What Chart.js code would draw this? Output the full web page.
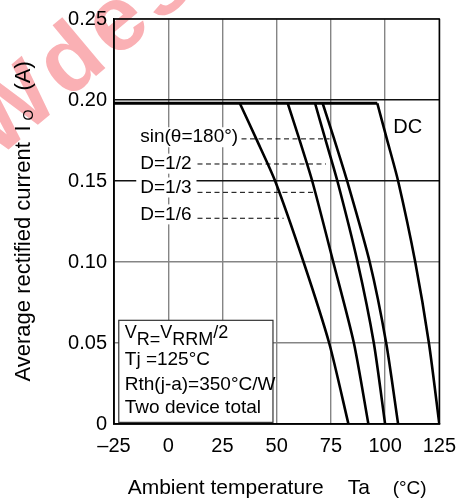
<!DOCTYPE html>
<html lang="en">
<head>
<meta charset="UTF-8">
<title>Io - Ta derating</title>
<script src="https://cdn.jsdelivr.net/npm/chart.js"></script>
<style>
  body { margin: 0; background: #fff; }
  #wrap { width: 466px; height: 502px; }
</style>
</head>
<body>
<div id="wrap"><canvas id="derating"></canvas></div>
<script>
// axis ticks
const xTicks = [-25, 0, 25, 50, 75, 100, 125];
const yTicks = [0, 0.05, 0.10, 0.15, 0.20, 0.25];

// sloped part of each derating curve, all share the same current steps
const curveIo = [0.198, 0.176, 0.15, 0.10, 0.05, 0];
const sinTa = [33, 40.6, 49.3, 62.4, 74.2, 83.1];
const d2Ta  = [55.1, 60.4, 66.4, 76.1, 85.6, 92.3];
const d3Ta  = [67.7, 72.4, 78, 87.3, 94.8, 100];
const d6Ta  = [71.2, 76.5, 82.5, 92.9, 100.5, 106];
const dcTa  = [96.4, 100.8, 106, 113.9, 120.2, 125];

// flat part common to all curves
const plateauTa = [-25, 96.4];
const plateauIo = [0.198, 0.198];

// curve names and their dashed leaders
const curveNames = ['sin(θ=180°)', 'D=1/2', 'D=1/3', 'D=1/6'];
const nameTa = [-12.9, -12.9, -12.9, -12.9];
const nameIo = [0.177, 0.1607, 0.146, 0.1294];
const leadFrom = [33.8, 13.5, 13.5, 13.5];
const leadTo = [74.4, 72.7, 68.2, 53.2];
const leadIo = [0.176, 0.1605, 0.143, 0.127];
const dcName = 'DC';
const dcAt = [103.8, 0.183];

// conditions box
const noteLines = ['Tj =125°C', 'Rth(j-a)=350°C/W', 'Two device total'];
const noteBox = [-22.8, 48.3, 0.064, 0.001];

const FONT = '"Liberation Sans", Arial, sans-serif';

const pts = (xs, ys) => xs.map((v, i) => ({ x: v, y: ys[i] }));
const curve = xs => ({
    data: pts(xs, curveIo), borderColor: '#000', borderWidth: 2.6,
    pointRadius: 0, tension: 0.25, fill: false
});
const leader = i => ({
    data: [{ x: leadFrom[i], y: leadIo[i] }, { x: leadTo[i], y: leadIo[i] }],
    borderColor: '#000', borderWidth: 1, borderDash: [5, 3.5], pointRadius: 0, fill: false
});

const extras = {
    id: 'extras',
    afterDatasetsDraw(chart) {
        const { ctx, scales: { x, y } } = chart;
        ctx.save();
        // curve names, white backing hides the grid like the original
        ctx.font = '19px ' + FONT;
        ctx.textBaseline = 'middle';
        curveNames.forEach((t, i) => {
            const px = x.getPixelForValue(nameTa[i]);
            const py = y.getPixelForValue(nameIo[i]);
            const end = x.getPixelForValue(leadFrom[i]);
            ctx.fillStyle = '#fff';
            ctx.fillRect(px - 4, py - 10, end - px + 3, 20);
            ctx.fillStyle = '#000';
            ctx.fillText(t, px, py);
        });
        ctx.font = '20px ' + FONT;
        ctx.fillText(dcName, x.getPixelForValue(dcAt[0]), y.getPixelForValue(dcAt[1]));

        // conditions box
        const l = x.getPixelForValue(noteBox[0]), r = x.getPixelForValue(noteBox[1]);
        const t = y.getPixelForValue(noteBox[2]), b = y.getPixelForValue(noteBox[3]);
        ctx.fillStyle = '#fff';
        ctx.fillRect(l, t, r - l, b - t);
        ctx.strokeStyle = '#333';
        ctx.lineWidth = 1.2;
        ctx.strokeRect(l, t, r - l, b - t);
        ctx.fillStyle = '#000';
        ctx.textBaseline = 'alphabetic';
        ctx.font = '18px ' + FONT;
        let cx = l + 6;
        [['V', 0], ['R=', 1], ['V', 0], ['RRM', 1], ['/2', 0]].forEach(([s, low]) => {
            ctx.fillText(s, cx, t + (low ? 24.5 : 18));
            cx += ctx.measureText(s).width;
        });
        ctx.font = '19px ' + FONT;
        [44.5, 70, 92.5].forEach((dy, i) => ctx.fillText(noteLines[i], l + 6, t + dy));
        ctx.restore();
    },
    afterDraw(chart) {
        const { ctx, chartArea: a } = chart;
        ctx.save();
        ctx.strokeStyle = '#000';
        ctx.lineWidth = 1.5;
        ctx.strokeRect(a.left, a.top, a.right - a.left, a.bottom - a.top);

        // x title
        ctx.fillStyle = '#000';
        ctx.textBaseline = 'alphabetic';
        const cxm = (a.left + a.right) / 2;
        let px = cxm - 149;
        ctx.font = '21px ' + FONT;
        ctx.fillText('Ambient temperature', px, 493.5);
        ctx.fillText('Ta', px + 220, 493.5);
        ctx.font = '19px ' + FONT;
        ctx.fillText('(°C)', px + 265, 493.5);

        // y title, rotated, with subscript O
        const cym = (a.top + a.bottom) / 2;
        ctx.translate(29.5, cym + 160);
        ctx.rotate(-Math.PI / 2);
        ctx.font = '22px ' + FONT;
        ctx.fillText('Average rectified current', 0, 0);
        ctx.fillText('I', 250, 0);
        ctx.fillText('(A)', 291, 0);
        ctx.font = '14px ' + FONT;
        ctx.fillText('O', 261, 3.5);
        ctx.restore();

        // pink watermark from the scanned sheet
        ctx.save();
        ctx.globalCompositeOperation = 'multiply';
        ctx.fillStyle = 'rgb(250,176,180)';
        ctx.font = 'bold 92px ' + FONT;
        ctx.translate(-4, 160);
        ctx.rotate(-40 * Math.PI / 180);
        let d = 0;
        for (const ch of 'Wdes') {
            ctx.fillText(ch, d, 0);
            d += ctx.measureText(ch).width + 6;
        }
        ctx.restore();
    }
};

new Chart(document.getElementById('derating'), {
    type: 'line',
    data: {
        datasets: [
            { data: pts(plateauTa, plateauIo), borderColor: '#000', borderWidth: 3, pointRadius: 0, fill: false },
            curve(sinTa), curve(d2Ta), curve(d3Ta), curve(d6Ta), curve(dcTa),
            leader(0), leader(1), leader(2), leader(3)
        ]
    },
    options: {
        responsive: true,
        maintainAspectRatio: false,
        animation: false,
        layout: { padding: { top: 15, right: 21, bottom: 0, left: 0 } },
        plugins: { legend: { display: false }, tooltip: { enabled: false } },
        scales: {
            x: {
                type: 'linear', min: -25, max: 125,
                afterBuildTicks: s => { s.ticks = xTicks.map(v => ({ value: v })); },
                afterFit: s => { s.height = 78; },
                grid: { color: '#858585', lineWidth: 1.4, drawTicks: false },
                border: { color: '#000', width: 1.5 },
                ticks: {
                    padding: 10, color: '#000', maxRotation: 0, autoSkip: false,
                    font: { family: FONT, size: 20 },
                    callback: v => v < 0 ? '–' + Math.abs(v) : String(v)
                }
            },
            y: {
                type: 'linear', min: 0, max: 0.25,
                afterBuildTicks: s => { s.ticks = yTicks.map(v => ({ value: v })); },
                afterFit: s => { s.width = 114; },
                grid: {
                    color: c => (c.tick && (c.tick.value === 0.15 || c.tick.value === 0.2)) ? '#111' : '#858585',
                    lineWidth: 1.4, drawTicks: false
                },
                border: { color: '#000', width: 1.5 },
                ticks: {
                    padding: 7, color: '#000', autoSkip: false,
                    font: { family: FONT, size: 20 },
                    callback: v => v === 0 ? '0' : v.toFixed(2)
                }
            }
        }
    },
    plugins: [extras]
});
</script>
</body>
</html>
